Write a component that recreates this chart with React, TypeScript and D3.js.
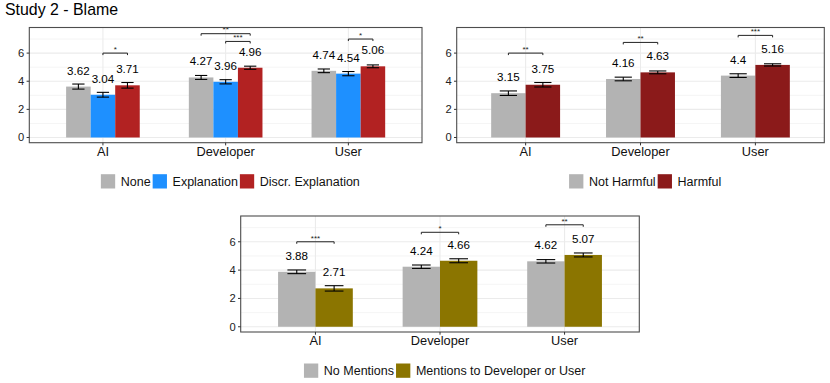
import React from 'react';
import * as d3 from 'd3';

const FONT = '"Liberation Sans", Arial, Helvetica, sans-serif';

const title = 'Study 2 - Blame';
const categories = ['AI', 'Developer', 'User'];
const yTicks = [0, 2, 4, 6];
const yMinorTicks = [1, 3, 5, 7];
const yDomain: [number, number] = [-0.37, 7.82];

// Panel 1: explanation condition
const p1Groups = ['None', 'Explanation', 'Discr. Explanation'];
const p1Colors = ['#B3B3B3', '#1E90FF', '#B22222'];
const p1None = [3.62, 4.27, 4.74];
const p1Expl = [3.04, 3.96, 4.54];
const p1Discr = [3.71, 4.96, 5.06];
const p1NoneSE = [0.18, 0.14, 0.13];
const p1ExplSE = [0.17, 0.15, 0.15];
const p1DiscrSE = [0.2, 0.11, 0.1];
const p1Brackets = [
  { cat: 'AI', from: 1, to: 2, level: 6.0, label: '*' },
  { cat: 'Developer', from: 0, to: 2, level: 7.38, label: '**' },
  { cat: 'Developer', from: 1, to: 2, level: 6.83, label: '***' },
  { cat: 'User', from: 1, to: 2, level: 7.0, label: '*' },
];

// Panel 2: harm
const p2Groups = ['Not Harmful', 'Harmful'];
const p2Colors = ['#B3B3B3', '#8B1A1A'];
const p2NotHarmful = [3.15, 4.16, 4.4];
const p2Harmful = [3.75, 4.63, 5.16];
const p2NotHarmfulSE = [0.16, 0.13, 0.13];
const p2HarmfulSE = [0.16, 0.1, 0.08];
const p2Brackets = [
  { cat: 'AI', from: 0, to: 1, level: 6.0, label: '**' },
  { cat: 'Developer', from: 0, to: 1, level: 6.76, label: '**' },
  { cat: 'User', from: 0, to: 1, level: 7.26, label: '***' },
];

// Panel 3: mentions
const p3Groups = ['No Mentions', 'Mentions to Developer or User'];
const p3Colors = ['#B3B3B3', '#8B7500'];
const p3NoMentions = [3.88, 4.24, 4.62];
const p3Mentions = [2.71, 4.66, 5.07];
const p3NoMentionsSE = [0.13, 0.12, 0.12];
const p3MentionsSE = [0.19, 0.14, 0.14];
const p3Brackets = [
  { cat: 'AI', from: 0, to: 1, level: 6.0, label: '***' },
  { cat: 'Developer', from: 0, to: 1, level: 6.67, label: '*' },
  { cat: 'User', from: 0, to: 1, level: 7.2, label: '**' },
];

type Bracket = { cat: string; from: number; to: number; level: number; label: string };

let _ctx: CanvasRenderingContext2D | null = null;
function textWidth(t: string, size: number) {
  if (!_ctx) _ctx = document.createElement('canvas').getContext('2d');
  if (!_ctx) return t.length * size * 0.55;
  _ctx.font = `${size}px "Liberation Sans", Arial, sans-serif`;
  return _ctx.measureText(t).width;
}

function Panel(props: {
  box: { left: number; right: number; top: number; bottom: number };
  groups: string[];
  colors: string[];
  values: number[][];
  ses: number[][];
  brackets: Bracket[];
}) {
  const { box, groups, colors, values, ses, brackets } = props;
  const x = d3.scaleBand<string>().domain(categories).range([box.left, box.right]).paddingInner(0.4).paddingOuter(0.3);
  const xi = d3.scaleBand<number>().domain(groups.map((_, i) => i)).range([0, x.bandwidth()]).padding(0);
  const y = d3.scaleLinear().domain(yDomain).range([box.bottom, box.top]);
  const cx = (c: string) => (x(c) as number) + x.bandwidth() / 2;
  const bx = (c: string, g: number) => (x(c) as number) + (xi(g) as number);
  const bw = xi.bandwidth();

  // legend layout
  const keySize = 14.3;
  const legFont = 12.5;
  const items = groups.map((g) => keySize + 5.6 + textWidth(g, legFont));
  const gap = 2;
  const total = d3.sum(items) + gap * (items.length - 1);
  const centerX = (box.left + box.right) / 2 + 4.7;
  let acc = centerX - total / 2;
  const legendPos = items.map((w) => {
    const p = acc;
    acc += w + gap;
    return p;
  });
  const keyTop = box.bottom + 31.5;

  return (
    <g>
      {/* gridlines */}
      {yMinorTicks.map((t) => (
        <line key={'mn' + t} x1={box.left} x2={box.right} y1={y(t)} y2={y(t)} stroke="#EBEBEB" strokeWidth={0.55} />
      ))}
      {yTicks.map((t) => (
        <line key={'mj' + t} x1={box.left} x2={box.right} y1={y(t)} y2={y(t)} stroke="#EBEBEB" strokeWidth={1.07} />
      ))}
      {categories.map((c) => (
        <line key={'vx' + c} x1={cx(c)} x2={cx(c)} y1={box.top} y2={box.bottom} stroke="#EBEBEB" strokeWidth={1.07} />
      ))}
      {/* bars */}
      {groups.map((g, gi) =>
        categories.map((c, ci) => (
          <rect
            key={'b' + gi + c}
            x={bx(c, gi)}
            y={y(values[gi][ci])}
            width={bw}
            height={y(0) - y(values[gi][ci])}
            fill={colors[gi]}
          />
        ))
      )}
      {/* error bars */}
      {groups.map((g, gi) =>
        categories.map((c, ci) => {
          const m = bx(c, gi) + bw / 2;
          const v = values[gi][ci];
          const s = ses[gi][ci];
          const hw = bw / 4;
          return (
            <g key={'e' + gi + c} stroke="#000" strokeWidth={1.1} fill="none">
              <line x1={m} x2={m} y1={y(v - s)} y2={y(v + s)} />
              <line x1={m - hw} x2={m + hw} y1={y(v - s)} y2={y(v - s)} />
              <line x1={m - hw} x2={m + hw} y1={y(v + s)} y2={y(v + s)} />
            </g>
          );
        })
      )}
      {/* value labels */}
      {groups.map((g, gi) =>
        categories.map((c, ci) => (
          <text
            key={'t' + gi + c}
            x={bx(c, gi) + bw / 2}
            y={y(values[gi][ci]) - 12}
            textAnchor="middle"
            fontSize={11.6}
            fill="#000"
          >
            {String(values[gi][ci])}
          </text>
        ))
      )}
      {/* significance brackets */}
      {brackets.map((b, i) => {
        const x1 = bx(b.cat, b.from) + bw / 2;
        const x2 = bx(b.cat, b.to) + bw / 2;
        const yy = y(b.level);
        return (
          <g key={'br' + i}>
            <path
              d={`M${x1},${yy + 2}V${yy}H${x2}V${yy + 2}`}
              fill="none"
              stroke="#222"
              strokeWidth={1}
            />
            <text x={(x1 + x2) / 2} y={yy - 1.2} textAnchor="middle" fontSize={8} fill="#222">
              {b.label}
            </text>
          </g>
        );
      })}
      {/* panel border */}
      <rect x={box.left} y={box.top} width={box.right - box.left} height={box.bottom - box.top} fill="none" stroke="#4D4D4D" strokeWidth={1.1} />
      {/* y axis */}
      {yTicks.map((t) => (
        <g key={'yt' + t}>
          <line x1={box.left - 2.7} x2={box.left} y1={y(t)} y2={y(t)} stroke="#333" strokeWidth={1} />
          <text x={box.left - 5} y={y(t) + 4} textAnchor="end" fontSize={11.2} fill="#222">
            {t}
          </text>
        </g>
      ))}
      {/* x axis */}
      {categories.map((c) => (
        <g key={'xt' + c}>
          <line x1={cx(c)} x2={cx(c)} y1={box.bottom} y2={box.bottom + 2.7} stroke="#333" strokeWidth={1} />
          <text x={cx(c)} y={box.bottom + 13.3} textAnchor="middle" fontSize={12.8} fill="#111">
            {c}
          </text>
        </g>
      ))}
      {/* legend */}
      {groups.map((g, gi) => (
        <g key={'lg' + gi}>
          <rect x={legendPos[gi]} y={keyTop} width={keySize} height={keySize} fill={colors[gi]} />
          <text x={legendPos[gi] + keySize + 5.6} y={keyTop + 11.4} fontSize={legFont} fill="#111">
            {g}
          </text>
        </g>
      ))}
    </g>
  );
}

export default function App() {
  return (
    <svg
      width={830}
      height={383}
      style={{ position: 'absolute', left: 0, top: 0, background: '#fff' }}
      fontFamily={FONT}
    >
      <rect x={0} y={0} width={830} height={383} fill="#fff" />
      <text x={5} y={14.5} fontSize={15.9} fill="#000">
        {title}
      </text>
      <Panel
        box={{ left: 29.3, right: 422, top: 27.5, bottom: 142.7 }}
        groups={p1Groups}
        colors={p1Colors}
        values={[p1None, p1Expl, p1Discr]}
        ses={[p1NoneSE, p1ExplSE, p1DiscrSE]}
        brackets={p1Brackets}
      />
      <Panel
        box={{ left: 456.7, right: 824.3, top: 27.5, bottom: 142.7 }}
        groups={p2Groups}
        colors={p2Colors}
        values={[p2NotHarmful, p2Harmful]}
        ses={[p2NotHarmfulSE, p2HarmfulSE]}
        brackets={p2Brackets}
      />
      <Panel
        box={{ left: 240.7, right: 639.3, top: 216, bottom: 332 }}
        groups={p3Groups}
        colors={p3Colors}
        values={[p3NoMentions, p3Mentions]}
        ses={[p3NoMentionsSE, p3MentionsSE]}
        brackets={p3Brackets}
      />
    </svg>
  );
}
